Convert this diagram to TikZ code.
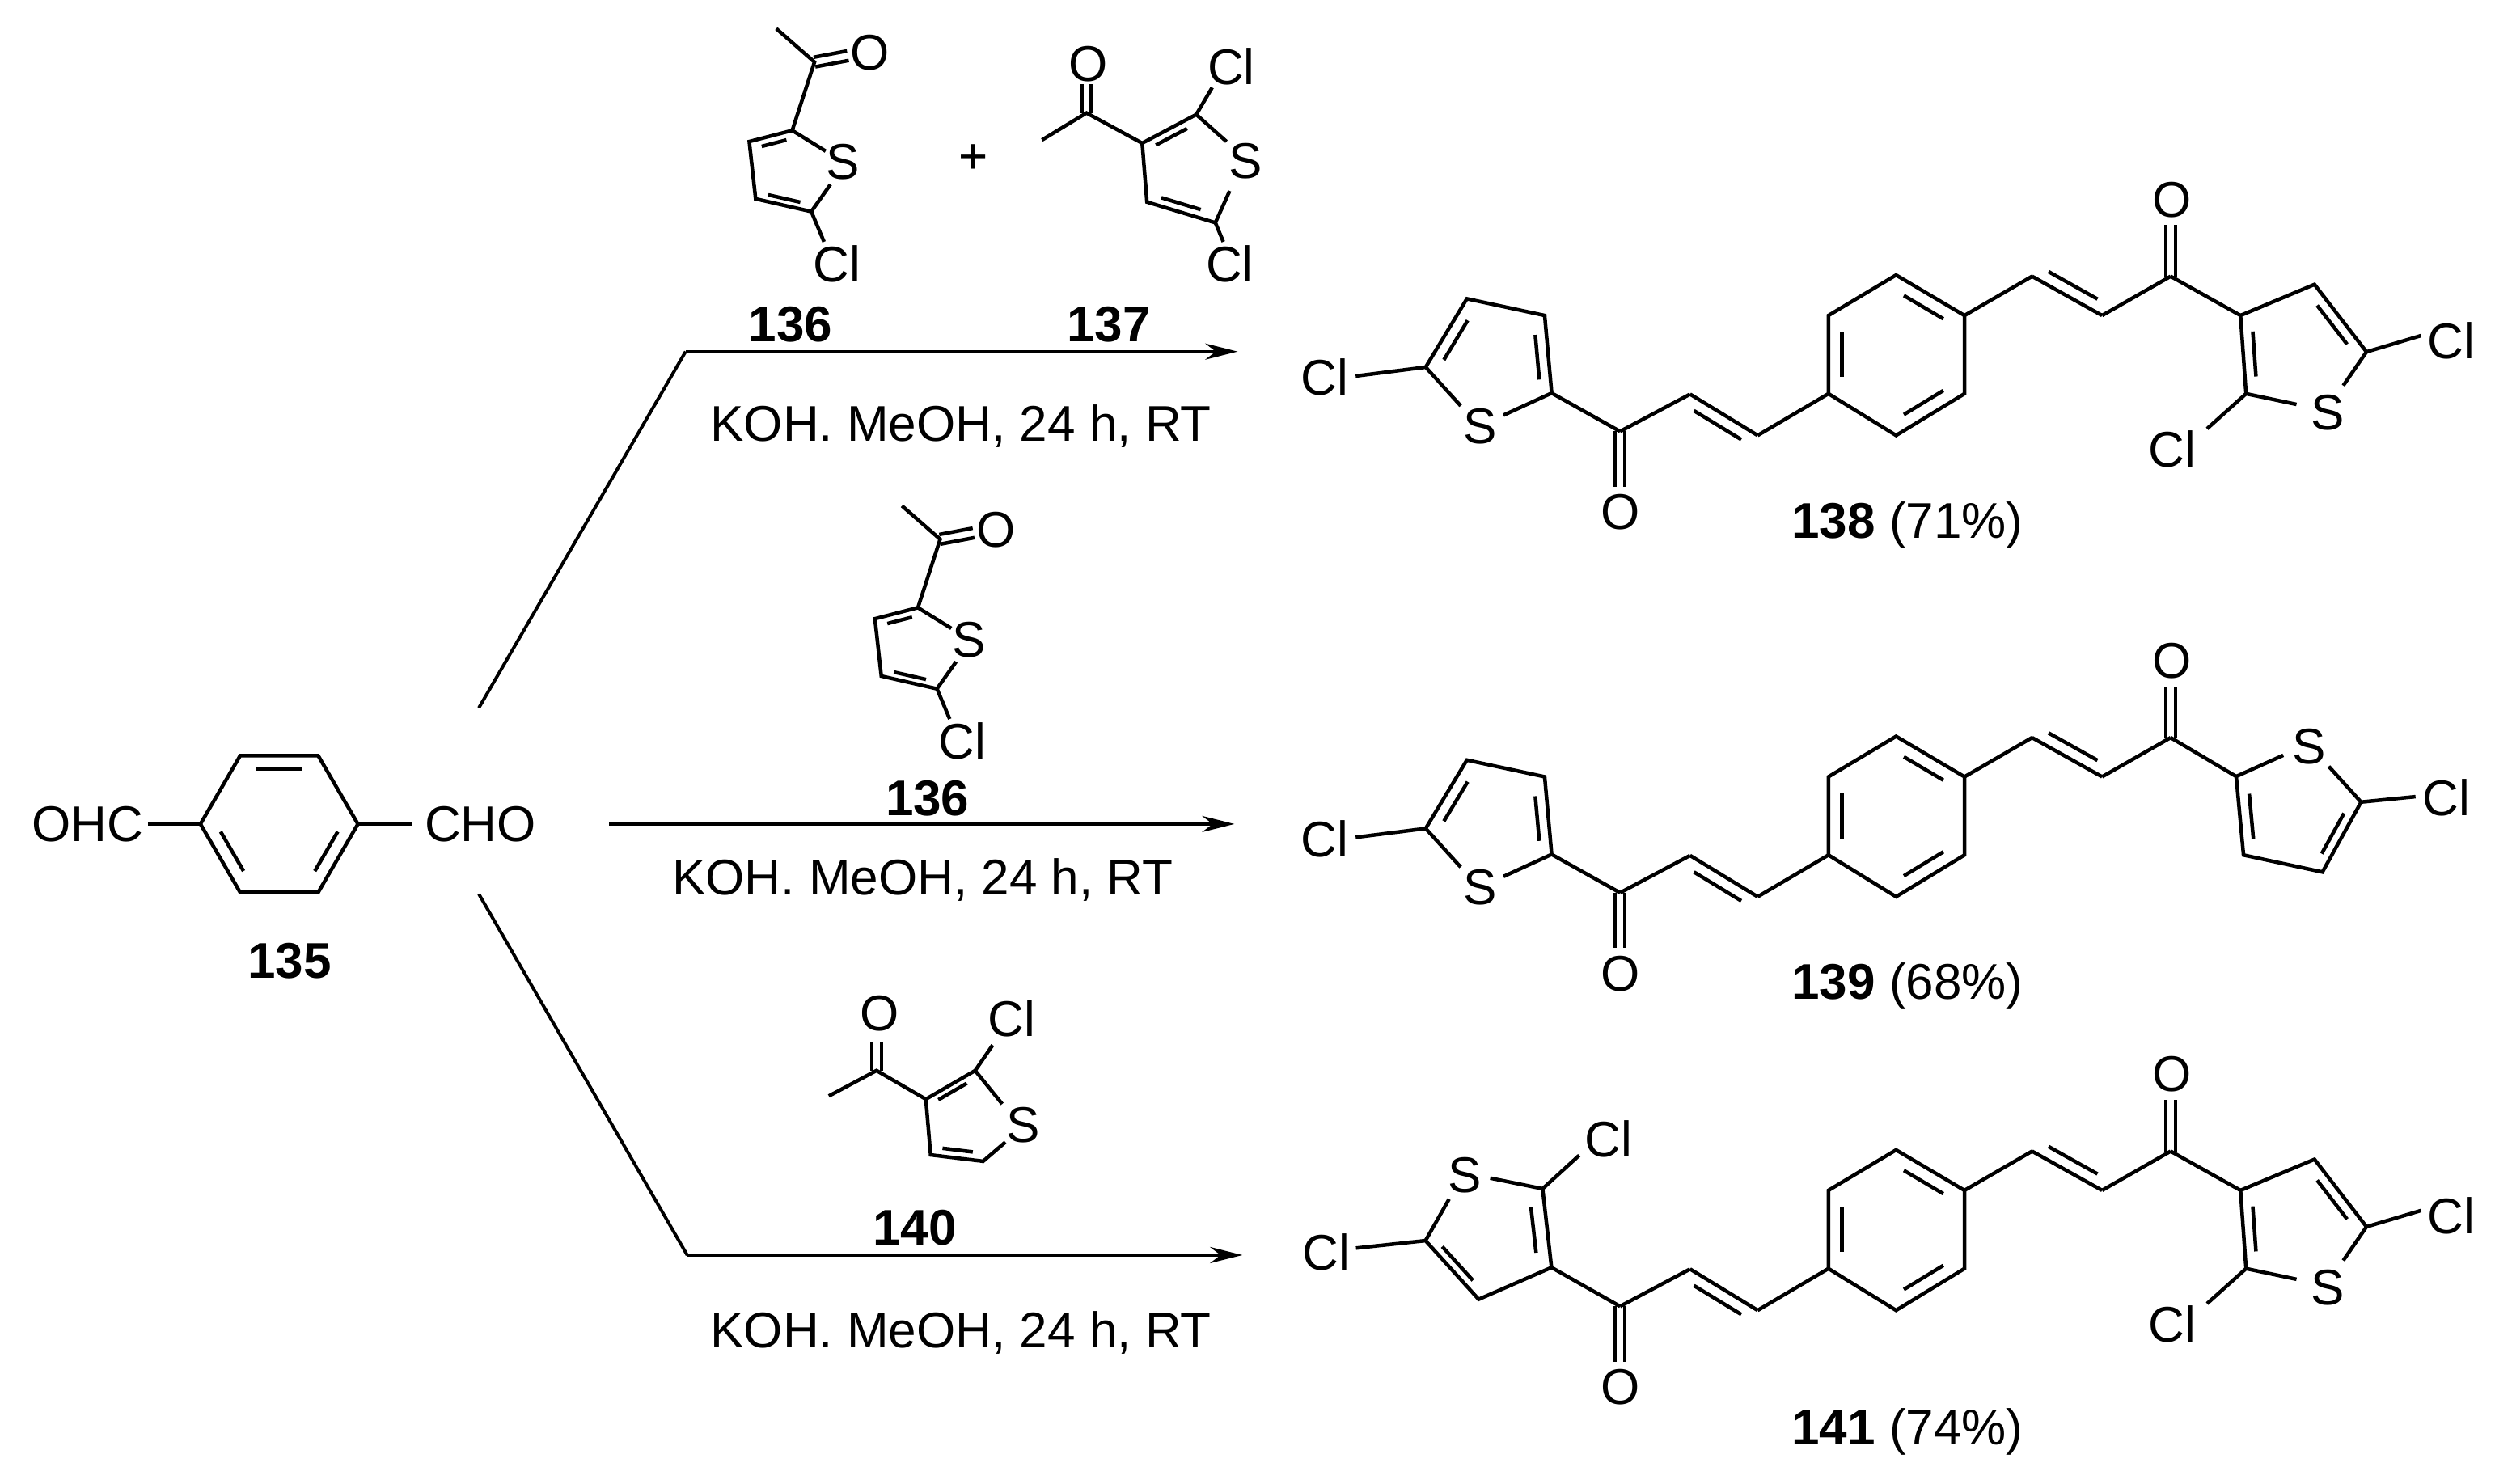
\documentclass[tikz,border=0pt]{standalone}
\usepackage{fontspec}
\setmainfont{Liberation Sans}
\usetikzlibrary{calc,arrows.meta}
\newcommand{\inb}[3]{\path ($(#1)!0.2!(#3)$) coordinate (ia) ($(#2)!0.2!(#3)$) coordinate (ib);
 \draw ($(ia)!0.14!(ib)$) -- ($(ib)!0.14!(ia)$);}
\newcommand{\cob}[2]{\draw ($(#1)!6pt!90:(#2)$) -- ($(#2)!6pt!-90:(#1)$); \draw ($(#1)!6pt!-90:(#2)$) -- ($(#2)!6pt!90:(#1)$);}
\newcommand{\chd}[3]{\draw (#1)--(#2); \path ($(#1)!15pt!#3:(#2)$) coordinate (ca) ($(#2)!15pt!-#3:(#1)$) coordinate (cb); \draw ($(ca)!0.15!(cb)$) -- ($(cb)!0.15!(ca)$);}
\begin{document}
\begin{tikzpicture}[x=1.967bp,y=-1.967bp,line width=4.5bp,line join=miter,
  every node/.style={font=\fontsize{62bp}{70bp}\selectfont,inner sep=0pt},
  lbl/.style={font=\fontsize{62bp}{70bp}\selectfont\bfseries},
  rxn/.style={line width=4bp,-{Stealth[length=40bp,width=20bp]}}]
\useasboundingbox (0,0) rectangle (1568.4,932.4);
% ---- 135
\draw (126,518)--(151,475)--(200,475)--(225,518)--(200,561)--(151,561)--cycle;
\inb{151,475}{200,475}{175.5,518}\inb{225,518}{200,561}{175.5,518}\inb{151,561}{126,518}{175.5,518}
\node (ohc) at (55,518) {OHC}; \node (cho) at (302,518) {CHO};
\draw (93,518)--(126,518); \draw (225,518)--(259,518);
\node[lbl] (n135) at (182,604) {135};
% ---- arrows
\coordinate (t0) at (301,445); \coordinate (t1) at (431,221); \coordinate (t2) at (778,221);
\draw[line width=4bp] (t0)--(t1); \draw[rxn] (t1)--(t2);
\coordinate (m0) at (383,518); \coordinate (m1) at (776,518);
\draw[rxn] (m0)--(m1);
\coordinate (b0) at (301,562); \coordinate (b1) at (432,789); \coordinate (b2) at (781,789);
\draw[line width=4bp] (b0)--(b1); \draw[rxn] (b1)--(b2);
\node (c1) at (604,268) {KOH. MeOH, 24 h, RT};
\node (c2) at (580,553) {KOH. MeOH, 24 h, RT};
\node (c3) at (604,838) {KOH. MeOH, 24 h, RT};
\node[lbl] (l136a) at (497,204) {136}; \node[lbl] (l137) at (697,204) {137};
\node[lbl] (l136b) at (583,502) {136}; \node[lbl] (l140) at (575,772) {140};
\node (plus) at (612,100) {+};
% ---- reagent 136 (two copies)
\foreach \dy/\dx in {0/0,300/79}{
\begin{scope}[shift={(\dx,\dy)}]
\draw (488,18)--(512,39)--(498,82)--(471,89)--(475,125)--(510,133)--(522,116);
\draw (498,82)--(519,95); \draw (510,133)--(518,152);
\cob{512,39}{533,35}
\inb{498,82}{471,89}{495,108}\inb{475,125}{510,133}{495,108}
\node at (547,33) {O}; \node at (530,102) {S}; \node at (526,166) {Cl};
\end{scope}}
% ---- reagent 137
\draw (655,88)--(683,71)--(718,90)--(752,72); \draw (718,90)--(721,127)--(764,140)--(773,120);
\draw (752,72)--(771,89); \draw (752,72)--(762,55); \draw (764,140)--(769,152);
\cob{683,71}{683,53}
\inb{718,90}{752,72}{742,106}\inb{721,127}{764,140}{742,106}
\node at (684,40) {O}; \node at (774,42) {Cl}; \node at (783,101) {S}; \node at (773,166) {Cl};
% ---- reagent 140
\draw (521,689)--(551,673)--(582,691)--(613,673)--(630,694);
\draw (582,691)--(585,726)--(618,730)--(632,718); \draw (613,673)--(624,657);
\cob{551,673}{551,655}
\inb{582,691}{613,673}{604,703}\inb{585,726}{618,730}{604,703}
\node at (553,637) {O}; \node at (636,640) {Cl}; \node at (643,707) {S};
% ---- products
\newcommand{\core}{%
 \cob{1018.4,271.2}{1018.4,306}
 \node at (1018.4,322) {O};
 \draw (1018.4,271.2)--(1062.4,247.8);
 \chd{1062.4,247.8}{1104.9,273.7}{-90}
 \draw (1104.9,273.7)--(1149.4,247.5);
 \draw (1149.4,247.5)--(1149.4,198.3)--(1191.9,172.9)--(1234.9,198.3)--(1234.9,247.5)--(1191.9,273.7)--cycle;
 \inb{1191.9,172.9}{1234.9,198.3}{1192.2,223}\inb{1149.4,198.3}{1149.4,247.5}{1192.2,223}\inb{1234.9,247.5}{1191.9,273.7}{1192.2,223}
 \draw (1234.9,198.3)--(1277.4,173.7);
 \chd{1277.4,173.7}{1321.4,198.3}{90}
 \draw (1321.4,198.3)--(1364.5,173.7);
 \cob{1364.5,173.7}{1364.5,141.5}
 \node at (1365.4,125.4) {O};}
\newcommand{\leftA}{%
 \draw (975.4,247.1)--(1018.4,271.2);
 \draw (945.1,261)--(975.4,247.1)--(971,198.3)--(922.1,187.8)--(896.2,230.8)--(918.2,255.1);
 \inb{896.2,230.8}{922.1,187.8}{939,232}\inb{971,198.3}{975.4,247.1}{939,232}
 \draw (896.2,230.8)--(852.2,236.4);
 \node at (930.4,267.8) {S}; \node at (832.6,237.3) {Cl};}
\newcommand{\rightA}{%
 \draw (1364.5,173.7)--(1408.4,198.3);
 \draw (1443.6,254.2)--(1411.9,247.5)--(1408.4,198.3)--(1454.9,178.8)--(1487.6,221.2)--(1473,242.4);
 \inb{1454.9,178.8}{1487.6,221.2}{1445,221}\inb{1408.4,198.3}{1411.9,247.5}{1445,221}
 \draw (1487.6,221.2)--(1521.8,211); \draw (1411.9,247.5)--(1387.4,269.5);
 \node at (1463.2,259.3) {S}; \node at (1541,214.4) {Cl}; \node at (1365.4,282.2) {Cl};}
% 138
\core\leftA\rightA
\node (p138) at (1199,330) {\textbf{138} (71\%)};
% 139
\begin{scope}[shift={(0,290)}]
\core\leftA
\draw (1364.5,173.7)--(1405.7,198.1);
\draw (1435.3,184.8)--(1405.7,198.1)--(1410.3,247.5)--(1459.9,258.2)--(1484.2,214.2)--(1463.9,191.8);
\inb{1405.7,198.1}{1410.3,247.5}{1444,225}\inb{1459.9,258.2}{1484.2,214.2}{1444,225}
\draw (1484.2,214.2)--(1518.4,210.8);
\node at (1451.5,179.4) {S}; \node at (1538,211.6) {Cl};
\end{scope}
\node (p139) at (1199,620) {\textbf{139} (68\%)};
% 141
\begin{scope}[shift={(0,550)}]
\core\rightA
\draw (975.3,246.8)--(1018.4,271.2);
\draw (936.8,190.6)--(969.7,197.3)--(975.3,246.8)--(929.5,266.8)--(896.1,229.9)--(910.9,203.8);
\inb{896.1,229.9}{929.5,266.8}{930,228}\inb{975.3,246.8}{969.7,197.3}{930,228}
\draw (969.7,197.3)--(992.7,176.3); \draw (896.1,229.9)--(852.4,234.6);
\node at (921,188.9) {S}; \node at (1011,166) {Cl}; \node at (833.8,237.2) {Cl};
\end{scope}
\node (p141) at (1199,900) {\textbf{141} (74\%)};
\end{tikzpicture}
\end{document}
